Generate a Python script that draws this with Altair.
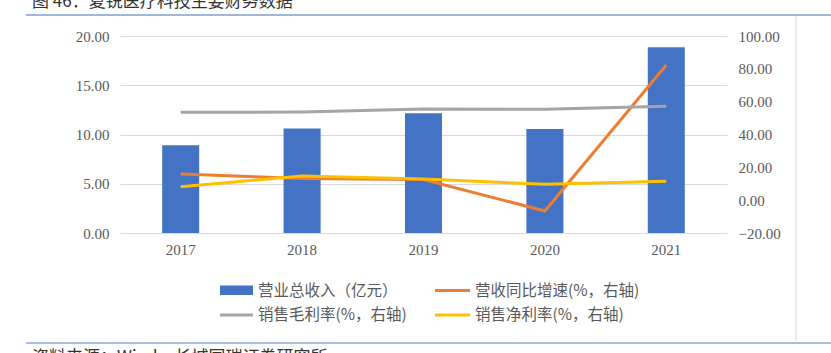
import altair as alt
import pandas as pd

years = ["2017", "2018", "2019", "2020", "2021"]
revenue = [8.9, 10.6, 12.15, 10.55, 18.85]
rev_growth = [15.9, 13.2, 12.6, -6.6, 82.3]
gross_margin = [53.5, 53.7, 55.5, 55.4, 57.2]
net_margin = [8.2, 14.7, 12.9, 9.7, 11.5]

series_names = ["营收同比增速(%，右轴)", "销售毛利率(%，右轴)", "销售净利率(%，右轴)"]
series_colors = ["#ED7D31", "#A5A5A5", "#FFC000"]
bar_name = "营业总收入（亿元）"
bar_color = "#4472C4"

title_text = "图 46：夏锐医疗科技主要财务数据"
source_text = "资料来源：Wind，长城国瑞证券研究所"

bar_df = pd.DataFrame({"year": years, "value": revenue})
rows = []
for name, vals in zip(series_names, [rev_growth, gross_margin, net_margin]):
    for y, v in zip(years, vals):
        rows.append({"year": y, "series": name, "value": v})
line_df = pd.DataFrame(rows)

W, H = 607, 197
CJK = "Noto Sans CJK SC"
SERIF = "Liberation Serif"

x_enc = alt.X("year:N", sort=years, title=None,
              scale=alt.Scale(paddingInner=0.695, paddingOuter=0.3475),
              axis=alt.Axis(labelAngle=0, labelFont=SERIF, labelFontSize=15,
                            labelColor="#595959", domain=True, domainColor="#D9D9D9",
                            ticks=False, labelPadding=9))

bars = alt.Chart(bar_df).mark_bar(color=bar_color).encode(
    x=x_enc,
    y=alt.Y("value:Q", title=None,
            scale=alt.Scale(domain=[0, 20]),
            axis=alt.Axis(values=[0, 5, 10, 15, 20], format=".2f", labelFont=SERIF,
                          labelFontSize=15, labelColor="#595959", domain=False,
                          ticks=False, labelPadding=11, grid=True,
                          gridColor="#D9D9D9", gridWidth=1)),
)

lines = alt.Chart(line_df).mark_line(strokeWidth=3).encode(
    x=alt.X("year:N", sort=years),
    y=alt.Y("value:Q", title=None,
            scale=alt.Scale(domain=[-20, 100]),
            axis=alt.Axis(orient="right", values=[-20, 0, 20, 40, 60, 80, 100],
                          format=".2f", labelFont=SERIF, labelFontSize=15,
                          labelColor="#595959", domain=False, ticks=False,
                          labelPadding=11, grid=False)),
    color=alt.Color("series:N", sort=series_names,
                    scale=alt.Scale(domain=series_names, range=series_colors),
                    legend=None),
    detail="series:N",
)

main = alt.layer(bars, lines).resolve_scale(y="independent")

anchor = alt.Chart(pd.DataFrame({"a": [0]}))

def txt(text, x, y, size=15.5, color="#595959", baseline="middle"):
    return anchor.mark_text(text=text, font=CJK, fontSize=size, color=color,
                            align="left", baseline=baseline).encode(
        x=alt.value(x), y=alt.value(y))

def hline(x1, x2, y, color, width):
    return anchor.mark_rule(color=color, strokeWidth=width).encode(
        x=alt.value(x1), x2=alt.value(x2), y=alt.value(y))

ox, oy = 120, 36  # plot origin

deco = [
    txt(title_text, 32 - ox, 2 - oy, size=17, color="#333333"),
    hline(26 - ox, 831 - ox, 15 - oy, "#7F9FCF", 1.5),
    hline(26 - ox, 831 - ox, 343 - oy, "#8EA9DB", 1.5),
    anchor.mark_rule(color="#D9D9D9", strokeWidth=1).encode(
        x=alt.value(796 - ox), y=alt.value(16 - oy), y2=alt.value(341 - oy)),
    txt(source_text, 32 - ox, 358 - oy, size=17, color="#333333"),
    # legend
    anchor.mark_rect(color=bar_color).encode(
        x=alt.value(220 - ox), x2=alt.value(253 - ox),
        y=alt.value(285.5 - oy), y2=alt.value(295 - oy)),
    txt(bar_name, 258 - ox, 290.5 - oy),
    hline(435 - ox, 470 - ox, 290.5 - oy, series_colors[0], 3),
    txt(series_names[0], 475 - ox, 290.5 - oy),
    hline(220 - ox, 253 - ox, 315 - oy, series_colors[1], 3),
    txt(series_names[1], 258 - ox, 315 - oy),
    hline(435 - ox, 470 - ox, 315 - oy, series_colors[2], 3),
    txt(series_names[2], 475 - ox, 315 - oy),
]

chart = alt.layer(main, *deco).properties(
    width=W, height=H,
    autosize=alt.AutoSizeParams(type="none"),
    padding={"left": ox, "top": oy, "right": 831 - ox - W, "bottom": 353 - oy - H},
    background="white",
).configure_view(stroke=None)

chart.save("out.html", embed_options={"renderer": "svg", "actions": False})
